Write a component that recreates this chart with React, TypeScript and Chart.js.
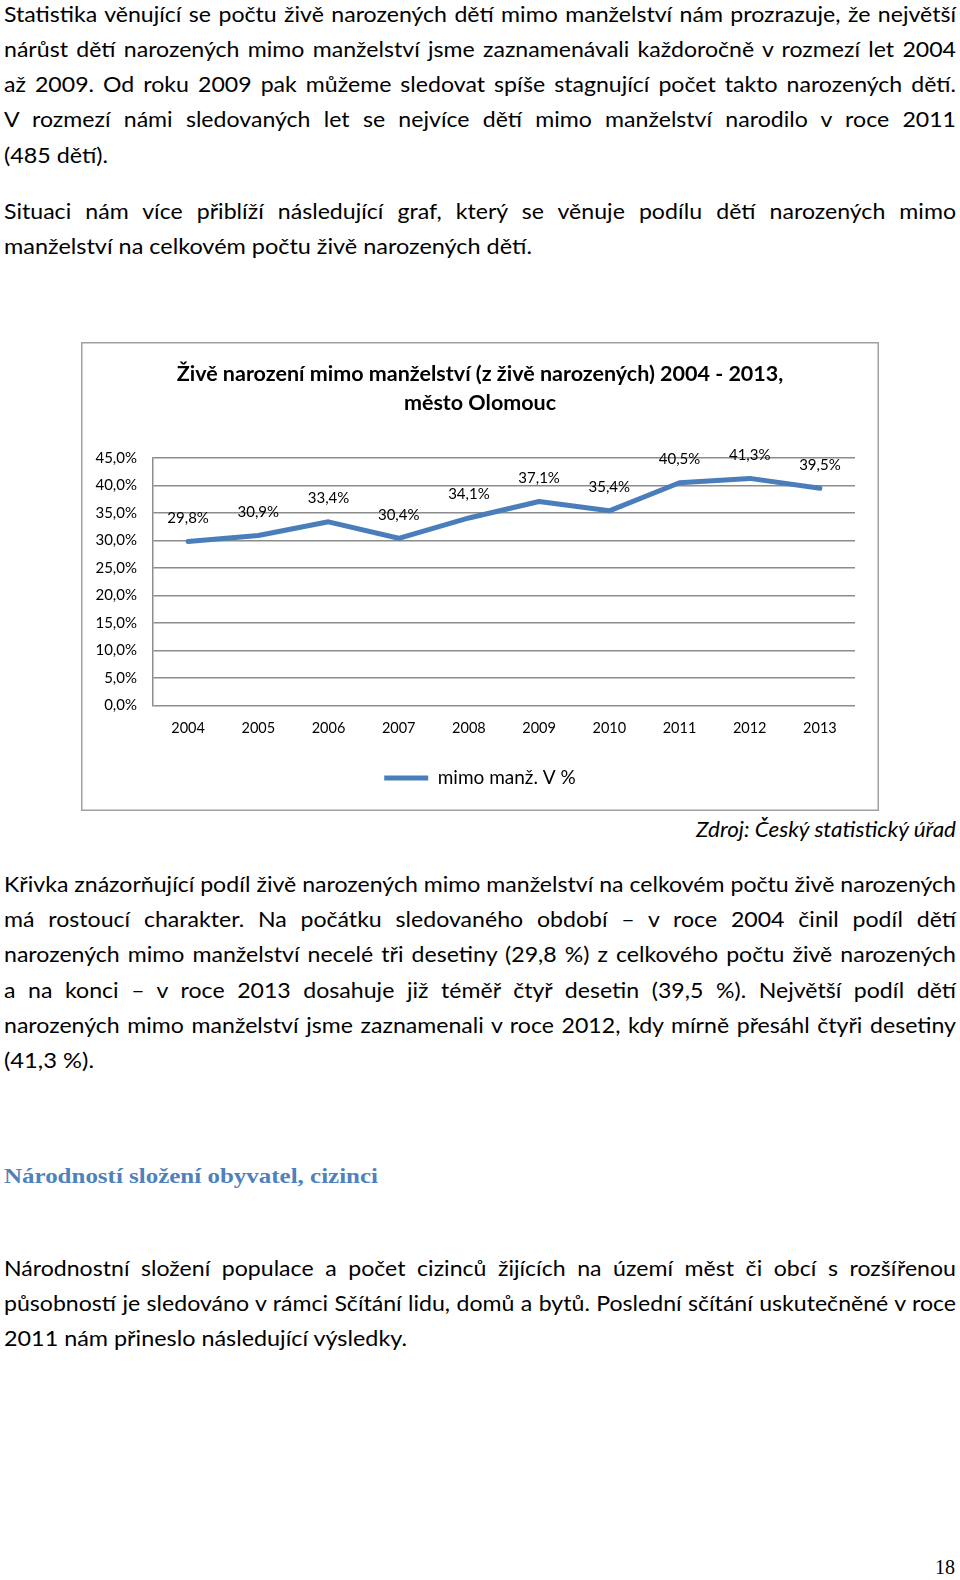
import React, { useEffect, useLayoutEffect, useRef, useState } from 'react';
import { Chart, registerables } from 'chart.js';

Chart.register(...registerables);

// ---------- chart data ----------
const YEARS = ['2004', '2005', '2006', '2007', '2008', '2009', '2010', '2011', '2012', '2013'];
const SHARE = [29.8, 30.9, 33.4, 30.4, 34.1, 37.1, 35.4, 40.5, 41.3, 39.5];
const SERIES_LABEL = 'mimo manž. V %';
const TITLE_LINES = ['Živě narození mimo manželství (z živě narozených) 2004 - 2013,', 'město Olomouc'];
const Y_MIN = 0;
const Y_MAX = 45;
const Y_STEP = 5;

// ---------- page text ----------
const PARA1 = [
  'Statistika věnující se počtu živě narozených dětí mimo manželství nám prozrazuje, že největší',
  'nárůst dětí narozených mimo manželství jsme zaznamenávali každoročně v rozmezí let 2004',
  'až 2009. Od roku 2009 pak můžeme sledovat spíše stagnující počet takto narozených dětí.',
  'V rozmezí námi sledovaných let se nejvíce dětí mimo manželství narodilo v roce 2011',
  '(485 dětí).',
];
const PARA2 = [
  'Situaci nám více přiblíží následující graf, který se věnuje podílu dětí narozených mimo',
  'manželství na celkovém počtu živě narozených dětí.',
];
const SOURCE = 'Zdroj: Český statistický úřad';
const PARA3 = [
  'Křivka znázorňující podíl živě narozených mimo manželství na celkovém počtu živě narozených',
  'má rostoucí charakter. Na počátku sledovaného období – v roce 2004 činil podíl dětí',
  'narozených mimo manželství necelé tři desetiny (29,8 %) z celkového počtu živě narozených',
  'a na konci – v roce 2013 dosahuje již téměř čtyř desetin (39,5 %). Největší podíl dětí',
  'narozených mimo manželství jsme zaznamenali v roce 2012, kdy mírně přesáhl čtyři desetiny',
  '(41,3 %).',
];
const HEADING = 'Národností složení obyvatel, cizinci';
const PARA4 = [
  'Národnostní složení populace a počet cizinců žijících na území měst či obcí s rozšířenou',
  'působností je sledováno v rámci Sčítání lidu, domů a bytů. Poslední sčítání uskutečněné v roce',
  '2011 nám přineslo následující výsledky.',
];
const PAGE_NO = '18';

const BODY_FONT = "Lato, 'Open Sans', sans-serif";
const SERIF_FONT = "'Liberation Serif', 'DejaVu Serif', serif";
const BLUE = '#4A7EBB';
const GRID = '#8c8c8c';

const fmtPct = (v: number) => v.toFixed(1).replace('.', ',') + '%';

type LineProps = {
  text: string;
  x: number;
  cy: number;
  w: number;
  mode: 'justify' | 'fit';
  S: number;
  tick: number;
  font?: string;
  size?: number;
  weight?: number | string;
  italic?: boolean;
  color?: string;
};

function Line(p: LineProps) {
  const ref = useRef<HTMLDivElement>(null);
  useLayoutEffect(() => {
    const el = ref.current;
    if (!el) return;
    el.style.wordSpacing = '0px';
    el.style.transform = 'none';
    const n = el.getBoundingClientRect().width;
    if (!n) return;
    if (p.mode === 'fit') {
      el.style.transform = `scaleX(${p.w / n})`;
    } else {
      const k = (p.text.match(/ /g) || []).length || 1;
      const ws = (p.w / p.S - n) / k;
      el.style.wordSpacing = ws + 'px';
      el.style.transform = `scaleX(${p.S})`;
    }
  }, [p.S, p.tick, p.text, p.w, p.mode]);
  const size = p.size ?? 21;
  const lh = Math.round(size * 1.4);
  return (
    <div
      ref={ref}
      style={{
        position: 'absolute',
        left: p.x,
        top: p.cy - lh / 2,
        height: lh,
        lineHeight: lh + 'px',
        fontSize: size,
        fontFamily: p.font ?? BODY_FONT,
        fontWeight: p.weight ?? 400,
        fontStyle: p.italic ? 'italic' : 'normal',
        color: p.color ?? '#000',
        whiteSpace: 'nowrap',
        transformOrigin: '0 50%',
      }}
    >
      {p.text}
    </div>
  );
}

function ShareChart() {
  const ref = useRef<HTMLCanvasElement>(null);
  useEffect(() => {
    const framePlugin = {
      id: 'frame',
      beforeDraw(c: any) {
        const { ctx, width, height } = c;
        ctx.save();
        ctx.fillStyle = '#ffffff';
        ctx.fillRect(0, 0, width, height);
        ctx.strokeStyle = '#a0a0a0';
        ctx.lineWidth = 1.5;
        ctx.strokeRect(0.75, 0.75, width - 1.5, height - 1.5);
        ctx.restore();
      },
    };
    const valueLabels = {
      id: 'valueLabels',
      afterDatasetsDraw(c: any) {
        const meta = c.getDatasetMeta(0);
        const ctx = c.ctx;
        ctx.save();
        ctx.font = '15px Lato';
        ctx.fillStyle = '#000';
        ctx.textAlign = 'center';
        ctx.textBaseline = 'middle';
        meta.data.forEach((pt: any, i: number) => {
          ctx.fillText(fmtPct(SHARE[i]), pt.x, pt.y - 23.5);
        });
        ctx.restore();
      },
    };
    const chart = new Chart(ref.current as HTMLCanvasElement, {
      type: 'line',
      data: {
        labels: YEARS,
        datasets: [
          {
            label: SERIES_LABEL,
            data: SHARE,
            borderColor: BLUE,
            backgroundColor: BLUE,
            borderWidth: 5,
            pointRadius: 0,
            pointHoverRadius: 0,
            tension: 0,
            borderJoinStyle: 'round',
            borderCapStyle: 'round',
            fill: false,
            yAxisID: 'y',
          },
        ],
      },
      options: {
        responsive: false,
        animation: false,
        devicePixelRatio: 1,
        events: [],
        layout: { padding: { left: 0, right: 0, top: 0, bottom: 13.5 } },
        plugins: {
          title: {
            display: true,
            text: TITLE_LINES,
            color: '#000',
            font: { family: 'Lato', size: 21.5, weight: 'bold', lineHeight: 1.35 },
            padding: { top: 17.5, bottom: 40.5 },
          },
          legend: {
            display: true,
            position: 'bottom',
            labels: {
              boxWidth: 44,
              boxHeight: 5,
              padding: 16.5,
              color: '#000',
              font: { family: 'Lato', size: 19 },
              generateLabels: (c: any) =>
                (Chart.defaults.plugins.legend.labels as any)
                  .generateLabels(c)
                  .map((l: any) => ({ ...l, lineWidth: 0, fillStyle: BLUE })),
            },
          },
          tooltip: { enabled: false },
        },
        scales: {
          x: {
            offset: true,
            grid: { display: false, drawTicks: false, offset: true },
            border: { display: false },
            ticks: {
              padding: 14.6,
              color: '#000',
              font: { family: 'Lato', size: 14.5 },
              maxRotation: 0,
              autoSkip: false,
            },
          },
          y: {
            position: 'left',
            min: Y_MIN,
            max: Y_MAX,
            ticks: {
              stepSize: Y_STEP,
              padding: 16,
              color: '#000',
              font: { family: 'Lato', size: 15 },
              callback: (v: any) => fmtPct(Number(v)),
            },
            grid: { color: GRID, lineWidth: 1.5, drawTicks: false },
            border: { display: true, color: GRID, width: 1.5 },
            afterFit: (s: any) => {
              s.width = 72;
            },
          },
          spacer: {
            type: 'linear',
            position: 'right',
            display: true,
            grid: { display: false, drawTicks: false },
            border: { display: false },
            ticks: { display: false },
            afterFit: (s: any) => {
              s.width = 24;
            },
          },
        },
      } as any,
      plugins: [framePlugin, valueLabels],
    });
    let alive = true;
    (document as any).fonts?.ready?.then(() => {
      if (alive) chart.update();
    });
    return () => {
      alive = false;
      chart.destroy();
    };
  }, []);
  return (
    <div style={{ position: 'absolute', left: 81, top: 342, width: 798, height: 469 }}>
      <canvas ref={ref} width={798} height={469} style={{ width: 798, height: 469, display: 'block' }} />
    </div>
  );
}

export default function App() {
  const [tick, setTick] = useState(0);
  const [S, setS] = useState(0.86);
  const measureRef = useRef<HTMLSpanElement>(null);

  useEffect(() => {
    (document as any).fonts?.ready?.then(() => setTick((t) => t + 1));
  }, []);

  useLayoutEffect(() => {
    const el = measureRef.current;
    if (!el) return;
    const n = el.getBoundingClientRect().width;
    if (n) setS(952 / n);
  }, [tick]);

  const L = 4;
  const W = 952;
  const common = { S, tick };

  const p1y = [13.1, 48.4, 83.6, 118.9, 154.1];
  const p2y = [210.5, 245.8];
  const p3y = [883.4, 918.6, 953.9, 989.2, 1024.4, 1059.7];
  const p4y = [1267.2, 1302.4, 1337.7];

  return (
    <div
      style={{
        position: 'absolute',
        left: 0,
        top: 0,
        width: 960,
        height: 1580,
        background: '#fff',
        overflow: 'hidden',
      }}
    >
      <span
        ref={measureRef}
        style={{
          position: 'absolute',
          left: 0,
          top: -100,
          visibility: 'hidden',
          whiteSpace: 'nowrap',
          fontFamily: BODY_FONT,
          fontSize: 21,
        }}
      >
        {PARA3[0]}
      </span>

      {PARA1.slice(0, 4).map((t, i) => (
        <Line key={'p1' + i} text={t} x={L} cy={p1y[i]} w={W} mode="justify" {...common} />
      ))}
      <Line text={PARA1[4]} x={L} cy={p1y[4]} w={104} mode="fit" {...common} />

      <Line text={PARA2[0]} x={L} cy={p2y[0]} w={W} mode="justify" {...common} />
      <Line text={PARA2[1]} x={L} cy={p2y[1]} w={528} mode="fit" {...common} />

      <ShareChart />

      <Line text={SOURCE} x={696} cy={828} w={260} mode="fit" italic {...common} />

      {PARA3.slice(0, 5).map((t, i) => (
        <Line key={'p3' + i} text={t} x={L} cy={p3y[i]} w={W} mode="justify" {...common} />
      ))}
      <Line text={PARA3[5]} x={L} cy={p3y[5]} w={90} mode="fit" {...common} />

      <Line
        text={HEADING}
        x={L}
        cy={1175}
        w={374}
        mode="fit"
        font={SERIF_FONT}
        size={22}
        weight={700}
        color="#4F81BD"
        {...common}
      />

      {PARA4.slice(0, 2).map((t, i) => (
        <Line key={'p4' + i} text={t} x={L} cy={p4y[i]} w={W} mode="justify" {...common} />
      ))}
      <Line text={PARA4[2]} x={L} cy={p4y[2]} w={403} mode="fit" {...common} />

      <Line text={PAGE_NO} x={935} cy={1566} w={20} mode="fit" font={SERIF_FONT} size={22} {...common} />
    </div>
  );
}
